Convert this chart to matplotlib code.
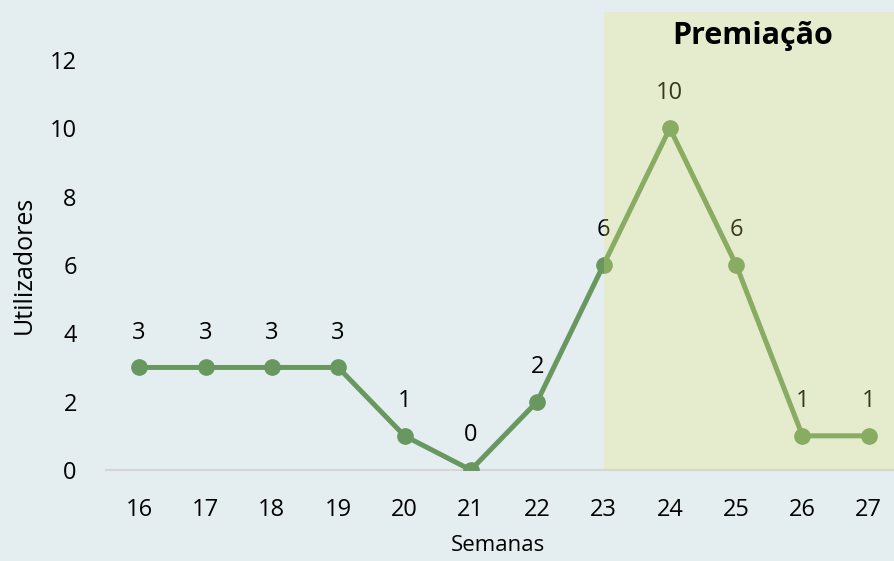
import matplotlib.pyplot as plt
from matplotlib.patches import Rectangle

semanas = [16, 17, 18, 19, 20, 21, 22, 23, 24, 25, 26, 27]
utilizadores = [3, 3, 3, 3, 1, 0, 2, 6, 10, 6, 1, 1]
premio_inicio = 23
yticks = [0, 2, 4, 6, 8, 10, 12]

plt.rcParams['font.family'] = ['Open Sans', 'DejaVu Sans']

bg = '#E4EDF0'
ytop = 13.4
fig = plt.figure(figsize=(8.95, 5.61), dpi=100, facecolor=bg)
ax = fig.add_axes([106 / 895, 91 / 561, 796 / 895, 458 / 561])
ax.set_facecolor(bg)

ax.plot(semanas, utilizadores, color='#68985F', lw=3.6, marker='o', ms=11,
        solid_joinstyle='round', zorder=3)
for x, y in zip(semanas, utilizadores):
    ax.annotate(str(y), (x, y), xytext=(0, 25), textcoords='offset points',
                ha='center', va='center', fontsize=17, color='black', zorder=4)

ax.set_xlim(15.5, 27.5)
ax.set_ylim(0, ytop)
ax.set_xticks(semanas)
ax.set_yticks(yticks)
ax.tick_params(length=0, labelsize=17)
ax.tick_params(axis='x', pad=20)
ax.tick_params(axis='y', pad=21)
for s in ['top', 'right', 'left']:
    ax.spines[s].set_visible(False)
ax.spines['bottom'].set_color('#D6D6D6')
ax.spines['bottom'].set_linewidth(1.5)

# translucent highlight over the prize weeks
ax.add_patch(Rectangle((premio_inicio, 0), 27.5 - premio_inicio, ytop,
                       facecolor='#E8E868', alpha=0.25, edgecolor='none', zorder=5))
ax.text(25.25, 12.45, 'Premiação', ha='center', va='baseline', fontsize=22,
        fontweight='bold', color='black', zorder=6)

ax.set_xlabel('Semanas', fontsize=16, va='center')
ax.xaxis.set_label_coords(0.4925, -0.165)
ax.set_ylabel('Utilizadores', fontsize=18, va='center')
ax.yaxis.set_label_coords(-0.103, 6 / ytop)

fig.savefig('out.png', dpi=100, facecolor=bg)
